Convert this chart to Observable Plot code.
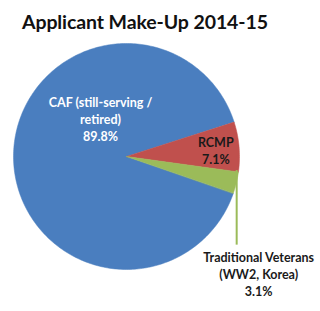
<!DOCTYPE html>
<html><head><meta charset="utf-8">
<script src="https://cdn.jsdelivr.net/npm/d3@7"></script>
<script src="https://cdn.jsdelivr.net/npm/@observablehq/plot@0.6"></script>
<style>
body{margin:0;background:#fff;width:320px;height:311px;overflow:hidden;font-family:Lato,"Open Sans",sans-serif;}
#title{position:absolute;left:22px;top:10px;font-size:19.5px;font-weight:bold;color:#111;white-space:nowrap;letter-spacing:-0.1px}
#chart{position:absolute;left:0;top:40px}
</style></head><body>
<div id="title">Applicant Make-Up 2014-15</div>
<div id="chart"></div>
<script>
const categories = ["CAF (still-serving / retired)", "RCMP", "Traditional Veterans (WW2, Korea)"];
const values = [89.8, 7.1, 3.1];
const colors = ["#4a7ebf", "#c0504d", "#9bbb59"];
const labelLines = [["CAF (still-serving /", "retired)", "89.8%"], ["RCMP", "7.1%"], ["Traditional Veterans", "(WW2, Korea)", "3.1%"]];

const startDeg = 109;
const pie = d3.pie().sort(null).startAngle(startDeg*Math.PI/180).endAngle(startDeg*Math.PI/180 + 2*Math.PI);
const arcs = pie(values);
const pts = [];
arcs.forEach((a, i) => {
  const cat = categories[i];
  pts.push({cat, x: 0, y: 0});
  const n = Math.max(4, Math.ceil((a.endAngle - a.startAngle) / (Math.PI/180)));
  for (let k = 0; k <= n; k++) {
    const t = a.startAngle + (a.endAngle - a.startAngle) * k / n;
    pts.push({cat, x: Math.sin(t), y: Math.cos(t)});
  }
});

const labels = [];
const lblPos = [[-0.23, 0.47, "white"], [0.79, 0.12, "#1a1a1a"], [1.17, -0.9, "#1a1a1a"]];
labelLines.forEach((lines, i) => {
  lines.forEach((t, j) => labels.push({text: t, x: lblPos[i][0], y: lblPos[i][1] - j*0.148, fill: lblPos[i][2]}));
});

const cx = 126, cy = 116, r = 113;
const chart = Plot.plot({
  width: 320, height: 271,
  margin: 0,
  x: {domain: [-1, 1], range: [cx - r, cx + r], axis: null},
  y: {domain: [-1, 1], range: [cy + r, cy - r], axis: null},
  color: {domain: categories, range: colors},
  style: {fontFamily: "Lato, 'Open Sans', sans-serif"},
  marks: [
    Plot.line(pts, {x: "x", y: "y", z: "cat", fill: "cat", stroke: "cat", strokeWidth: 0.5, curve: "linear-closed"}),
    Plot.link([{x1: 0.975, y1: -0.12, x2: 0.975, y2: -0.78}], {x1: "x1", y1: "y1", x2: "x2", y2: "y2", stroke: colors[2], strokeWidth: 2}),
    Plot.text(labels, {x: "x", y: "y", text: "text", fill: "fill", fontWeight: "bold", fontSize: 12.5, textAnchor: "middle"})
  ]
});
document.getElementById("chart").append(chart);
</script>
</body></html>
